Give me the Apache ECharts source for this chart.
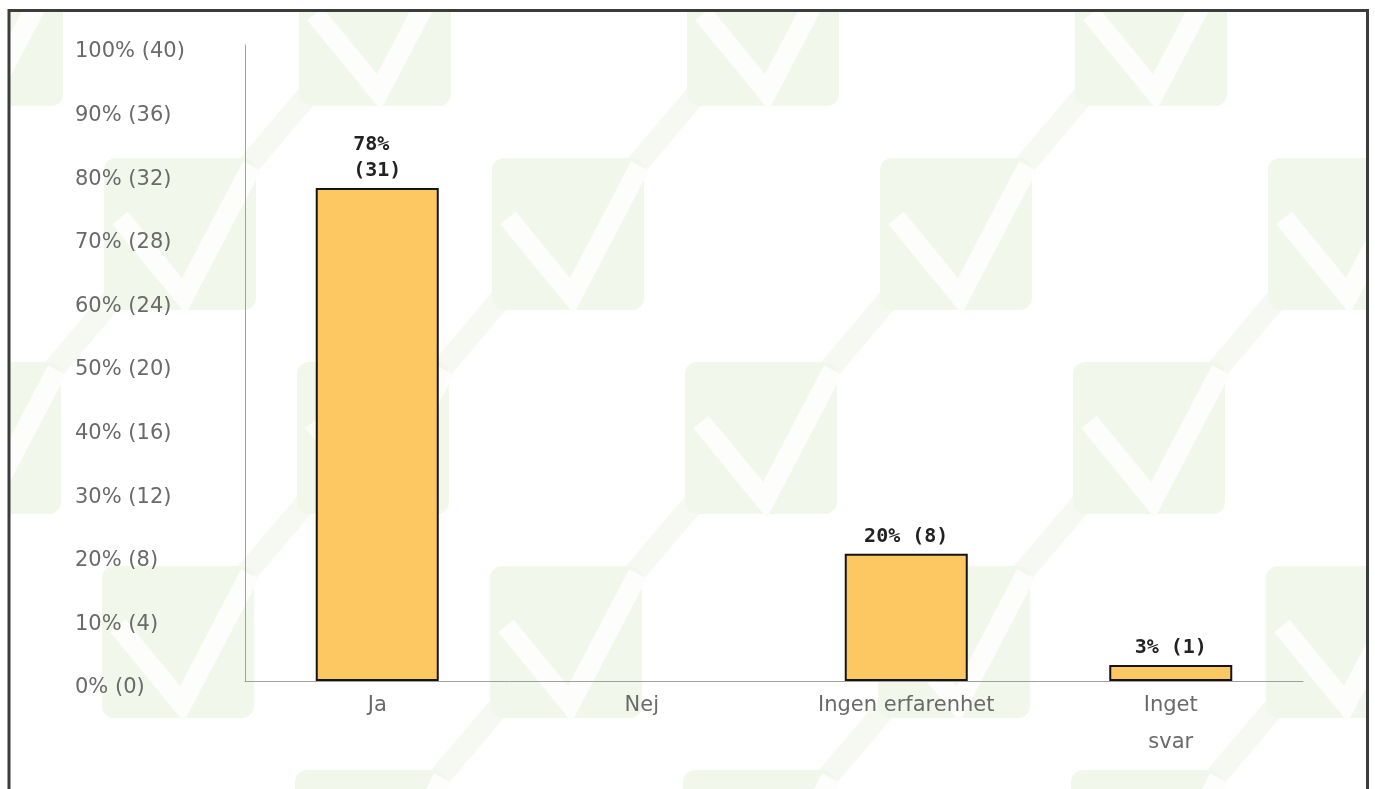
<!DOCTYPE html>
<html>
<head>
<meta charset="utf-8">
<script src="https://cdn.jsdelivr.net/npm/echarts@6/dist/echarts.min.js"></script>
<style>
html,body{margin:0;padding:0;background:#fff;}
#main{width:1375px;height:789px;}
</style>
</head>
<body>
<div id="main"></div>
<script>
// data
var categories = ['Ja', 'Nej', 'Ingen erfarenhet', 'Inget svar'];
var counts = [31, 0, 8, 1];
var percents = [78, 0, 20, 3];
var yTickLabels = ['0% (0)', '10% (4)', '20% (8)', '30% (12)', '40% (16)', '50% (20)',
	'60% (24)', '70% (28)', '80% (32)', '90% (36)', '100% (40)'];
var yMax = 40;
var yStep = 4;

//bakgrund med gröna bockar
function buildBackground(){
	var els = [];
	var size = 152;
	for(var j=-1;j<=3;j++){
		for(var i=-2;i<=4;i++){
			var x0 = 492 + 388*i + 193*j;
			var y0 = 158 + 204*j;
			if(x0 < -200 || x0 > 1400) continue;
			// diagonal band to next square up-right
			els.push({
				type: 'line', z: -12, silent: true,
				shape: {x1: x0 + size - 10, y1: y0 + 10, x2: x0 + 203, y2: y0 - 62},
				style: {stroke: '#f6f9f1', lineWidth: 22}
			});
			els.push({
				type: 'rect', z: -11, silent: true,
				shape: {x: x0, y: y0, width: size, height: size, r: 12},
				style: {fill: '#f2f7eb'}
			});
			els.push({
				type: 'polyline', z: -10, silent: true,
				shape: {points: [[x0+16, y0+60], [x0+80, y0+138], [x0+148, y0+8]]},
				style: {stroke: '#fdfefc', lineWidth: 20, fill: null}
			});
		}
	}
	// white outside the frame
	els.push({type: 'rect', z: -5, silent: true, shape: {x: 0, y: 0, width: 1375, height: 9}, style: {fill: '#fff'}});
	els.push({type: 'rect', z: -5, silent: true, shape: {x: 0, y: 0, width: 8, height: 789}, style: {fill: '#fff'}});
	els.push({type: 'rect', z: -5, silent: true, shape: {x: 1369, y: 0, width: 6, height: 789}, style: {fill: '#fff'}});
	// frame
	els.push({
		type: 'polyline', z: 10, silent: true,
		shape: {points: [[9, 800], [9, 10.5], [1367.5, 10.5], [1367.5, 800]]},
		style: {stroke: '#3c3c3c', lineWidth: 3, fill: null}
	});
	return els;
}

var chart = echarts.init(document.getElementById('main'));
var option = {
	backgroundColor: '#fff',
	animation: false,
	graphic: buildBackground(),
	grid: {
		left: 245,
		right: 72,
		top: 45,
		bottom: 108
	},
	xAxis: {
		type: 'category',
		data: categories,
		axisLine: {lineStyle: {color: '#a0a0a0', width: 1}},
		axisTick: {show: false},
		axisLabel: {
			margin: 6,
			color: '#6a6a6a',
			fontFamily: 'DejaVu Sans',
			fontSize: 21,
			lineHeight: 37,
			interval: 0,
			formatter: function(v){
				// kort etikett bryts på två rader
				return v === 'Inget svar' ? 'Inget\nsvar' : v;
			}
		}
	},
	yAxis: {
		type: 'value',
		min: 0,
		max: yMax,
		interval: yStep,
		axisLine: {show: true, lineStyle: {color: '#a0a0a0', width: 1}},
		axisTick: {show: false},
		splitLine: {show: false},
		axisLabel: {
			align: 'left',
			verticalAlign: 'top',
			lineHeight: 14,
			margin: 170,
			color: '#6a6a6a',
			fontFamily: 'DejaVu Sans',
			fontSize: 21,
			formatter: function(v){
				return yTickLabels[Math.round(v / yStep)];
			}
		}
	},
	series: [
		{
			type: 'bar',
			barWidth: 123,
			data: counts.map(function(v){
				return {value: v, itemStyle: {borderWidth: v ? 2 : 0}};
			}),
			itemStyle: {
				color: '#fdc862',
				borderColor: '#141414',
				borderWidth: 2
			},
			label: {
				show: true,
				position: 'top',
				distance: 4,
				color: '#222',
				fontFamily: 'DejaVu Sans Mono',
				fontWeight: 'bold',
				fontSize: 20,
				lineHeight: 26,
				width: 92,
				overflow: 'break',
				formatter: function(p){
					var i = p.dataIndex;
					if(!counts[i]) return '';
					return percents[i] + '% (' + counts[i] + ')';
				}
			}
		}
	]
};
chart.setOption(option);
</script>
</body>
</html>
